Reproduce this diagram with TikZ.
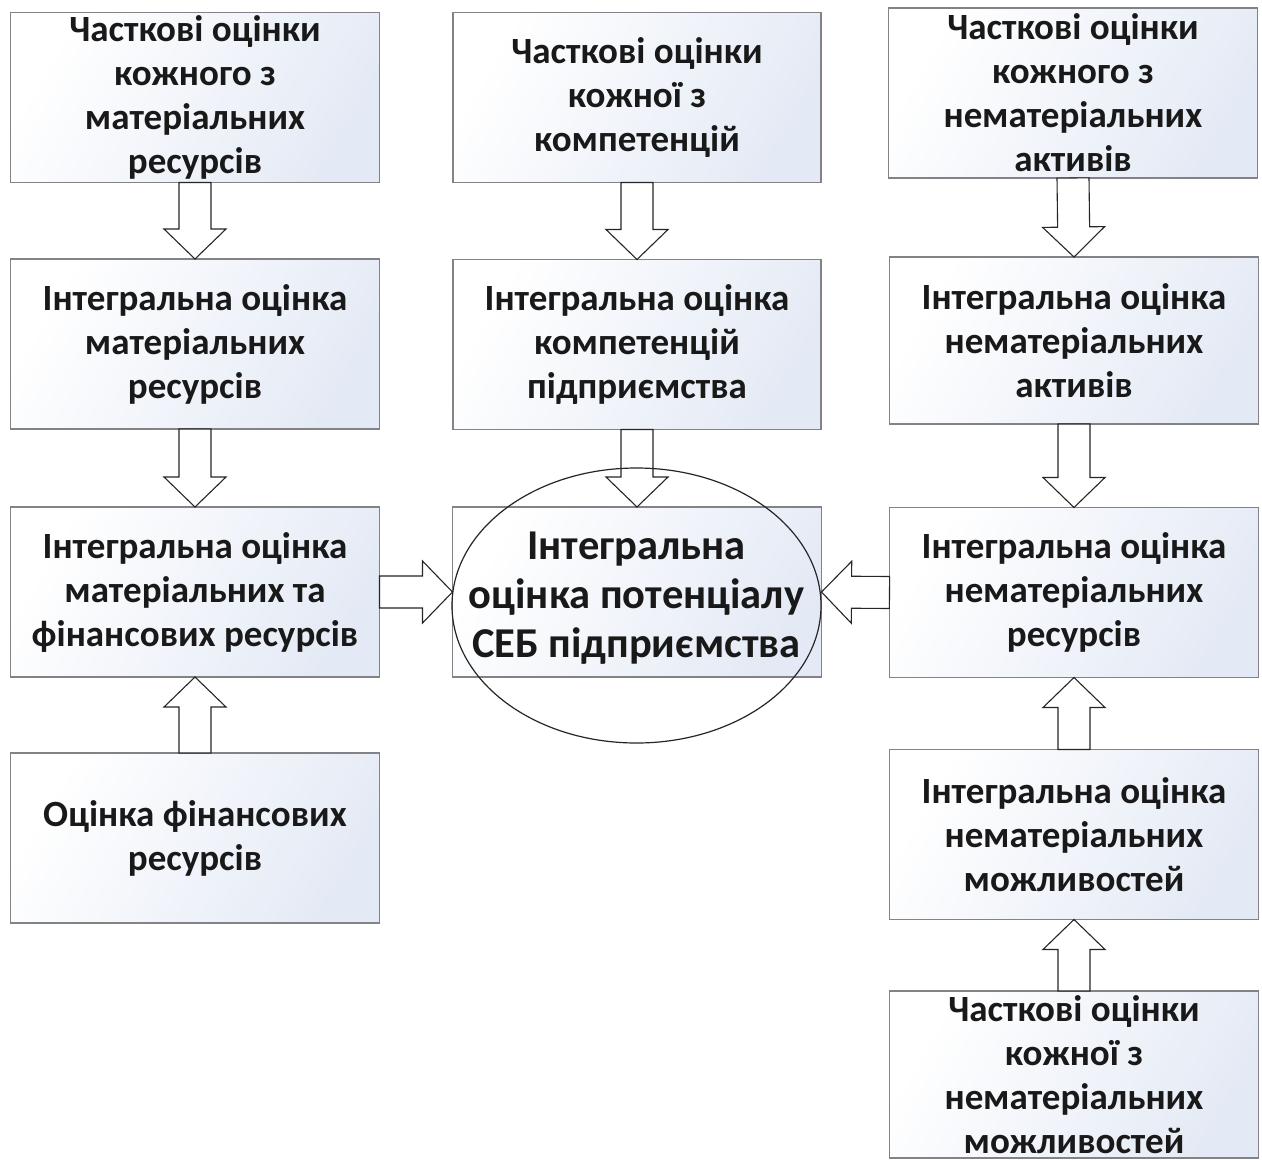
\documentclass[tikz,border=0pt]{standalone}
\usepackage{fontspec}
\setmainfont{Carlito}
\usetikzlibrary{calc,shapes.geometric}
\definecolor{boxblue}{RGB}{228,234,245}
\definecolor{boxline}{RGB}{130,130,135}
\definecolor{txt}{RGB}{25,25,25}
\tikzset{
  fbox/.style={rectangle, draw=boxline, line width=1.4pt, shading=axis,
    left color=white, right color=boxblue, shading angle=60,
    minimum width=369pt, minimum height=170pt, inner sep=0pt, outer sep=0pt,
    align=center, text=txt, font=\bfseries\fontsize{37}{44}\selectfont},
  barrow/.style={draw=black!85, fill=white, line width=1.1pt, line join=miter,
    to path={let \p1=(\tikztostart), \p2=(\tikztotarget), \p3=($(\p2)!30pt!(\p1)$) in
      ($(\p1)!16pt!90:(\p2)$) -- ($(\p3)!16pt!90:(\p2)$) -- ($(\p3)!31pt!90:(\p2)$)
      -- (\p2) -- ($(\p3)!31pt!-90:(\p2)$) -- ($(\p3)!16pt!-90:(\p2)$)
      -- ($(\p1)!16pt!-90:(\p2)$) -- cycle}},
}
\begin{document}
\begin{tikzpicture}[x=1pt,y=-1pt]
\useasboundingbox[fill=white] (0,0) rectangle (1262,1160);
% left column
\node[fbox] (L1) at (195,97.5) {Часткові оцінки\\кожного з\\матеріальних\\ресурсів};
\node[fbox] (L2) at (195,344) {Інтегральна оцінка\\матеріальних\\ресурсів};
\node[fbox] (L3) at (195,592) {Інтегральна оцінка\\матеріальних та\\фінансових ресурсів};
\node[fbox] (L4) at (195,838) {Оцінка фінансових\\ресурсів};
% middle column
\node[fbox, minimum width=368pt] (M1) at (637,97.5) {Часткові оцінки\\кожної з\\компетенцій};
\node[fbox, minimum width=368pt] (M2) at (637,344.5) {Інтегральна оцінка\\компетенцій\\підприємства};
\node[fbox] (M3) at (637,592) {};
% right column
\node[fbox] (R1) at (1073,93) {Часткові оцінки\\кожного з\\нематеріальних\\активів};
\node[fbox, minimum height=167pt] (R2) at (1074,340.5) {Інтегральна оцінка\\нематеріальних\\активів};
\node[fbox] (R3) at (1074,592.5) {Інтегральна оцінка\\нематеріальних\\ресурсів};
\node[fbox] (R4) at (1074,834.5) {Інтегральна оцінка\\нематеріальних\\можливостей};
\node[fbox, minimum height=167pt] (R5) at (1074,1074.5) {Часткові оцінки\\кожної з\\нематеріальних\\можливостей};
% block arrows
\draw[barrow] (L1.south) to (L2.north);
\draw[barrow] (L2.south) to (L3.north);
\draw[barrow] (L4.north) to (L3.south);
\draw[barrow] (M1.south) to (M2.north);
\draw[barrow] (M2.south) to (M3.north);
\draw[barrow] (R1.south) to (R2.north);
\draw[barrow] (R2.south) to (R3.north);
\draw[barrow] (R4.north) to (R3.south);
\draw[barrow] (R5.north) to (R4.south);
\draw[barrow] (L3.east) to (M3.west);
\draw[barrow] (R3.west) to (M3.east);
% central ellipse
\node[ellipse, draw=black!85, line width=1.2pt, minimum width=369pt, minimum height=275pt, inner sep=0pt] (E) at (636.5,605.5) {};
\node[align=center, text=txt, font=\bfseries\fontsize{42.5}{49}\selectfont] (Et) at (636.5,598) {Інтегральна\\оцінка потенціалу\\СЕБ підприємства};
\end{tikzpicture}
\end{document}
